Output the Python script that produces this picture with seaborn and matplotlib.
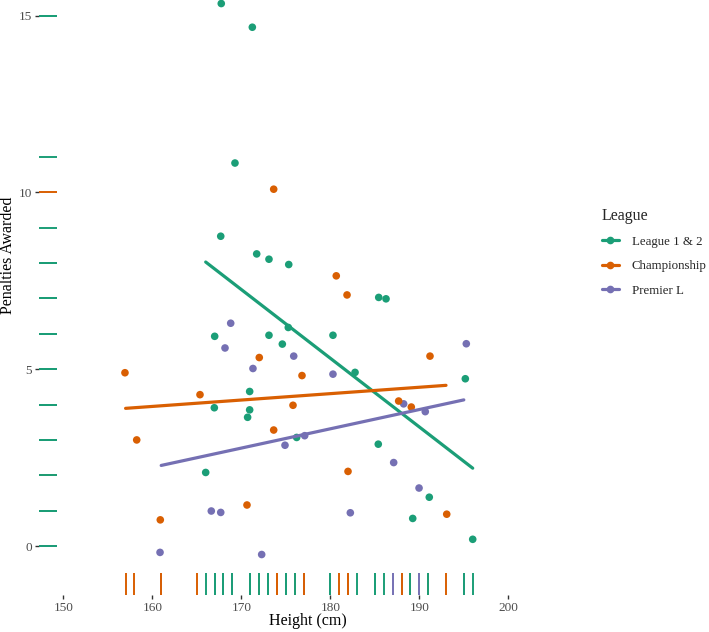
import matplotlib
matplotlib.use("Agg")

import matplotlib.pyplot as plt
from matplotlib.lines import Line2D
import numpy as np
import pandas as pd
import seaborn as sns

# points as drawn (jittered); the raw integer values are these rounded
league12_height = [167.75, 171.24, 169.29, 167.69, 171.73, 173.11, 175.33, 185.44, 186.26,
                   167.01, 173.11, 175.28, 174.61, 180.30, 182.78, 195.17, 170.94, 166.97,
                   170.94, 170.71, 176.22, 185.39, 166.00, 191.12, 189.26, 196.00]
league12_pens = [15.34, 14.67, 10.83, 8.76, 8.26, 8.11, 7.96, 7.03, 6.99,
                 5.93, 5.96, 6.18, 5.71, 5.96, 4.91, 4.73, 4.37, 3.91,
                 3.85, 3.64, 3.07, 2.88, 2.08, 1.38, 0.78, 0.19]

champ_height = [173.64, 180.67, 181.88, 156.93, 165.36, 158.25, 170.64, 160.90, 172.02,
                191.20, 176.82, 175.81, 187.68, 189.10, 173.64, 181.99, 193.08]
champ_pens = [10.09, 7.64, 7.10, 4.90, 4.28, 3.00, 1.16, 0.74, 5.33,
              5.37, 4.82, 3.98, 4.10, 3.93, 3.28, 2.11, 0.90]

prem_height = [168.81, 168.17, 166.63, 167.69, 160.87, 171.31, 175.89, 195.28, 180.30,
               188.24, 190.67, 174.91, 177.12, 187.12, 189.97, 182.25, 172.29]
prem_pens = [6.30, 5.60, 0.99, 0.95, -0.18, 5.02, 5.37, 5.72, 4.86,
             4.02, 3.80, 2.85, 3.12, 2.36, 1.64, 0.94, -0.24]

leagues = ["League 1 & 2", "Championship", "Premier L"]
colors = ["#1B9E77", "#D95F02", "#7570B3"]
x_ticks = [150, 160, 170, 180, 190, 200]
y_ticks = [0, 5, 10, 15]

# row order matters for the rug overlap (Premier L first, League 1 & 2 last)
frames = []
for name, h, p in [("Premier L", prem_height, prem_pens),
                   ("Championship", champ_height, champ_pens),
                   ("League 1 & 2", league12_height, league12_pens)]:
    frames.append(pd.DataFrame({"league": name, "height_j": h, "pens_j": p}))
df = pd.concat(frames, ignore_index=True)
df["height"] = df["height_j"].round()
df["pens"] = df["pens_j"].round()

palette = dict(zip(leagues, colors))

sns.set_theme(style="white")
plt.rcParams["font.family"] = ["Liberation Serif", "DejaVu Serif"]

fig = plt.figure(figsize=(7.09, 6.32), dpi=100)
ax = fig.add_axes([38.8 / 709, 37 / 632, (577.3 - 38.8) / 709, 595 / 632])

sns.rugplot(data=df, x="height", hue="league", hue_order=leagues, palette=palette,
            height=0.037, linewidth=1.4, expand_margins=False, legend=False, ax=ax)
sns.rugplot(data=df, y="pens", hue="league", hue_order=leagues, palette=palette,
            height=0.033, linewidth=1.4, expand_margins=False, legend=False, ax=ax)

sns.scatterplot(data=df, x="height_j", y="pens_j", hue="league", hue_order=leagues,
                palette=palette, s=30, linewidth=0, legend=False, ax=ax)

for name in leagues:
    sub = df[df["league"] == name]
    sns.regplot(data=sub, x="height", y="pens", scatter=False, ci=None, truncate=True,
                color=palette[name], line_kws={"linewidth": 2.3}, ax=ax)

ax.set_xlim(147.25, 207.75)
ax.set_ylim(-1.385, 15.44)
ax.set_xticks(x_ticks)
ax.set_yticks(y_ticks)
for s in ax.spines.values():
    s.set_visible(False)
ax.tick_params(axis="both", which="major", length=3, width=1, color="#333333",
               labelsize=9.5, labelcolor="#4d4d4d", pad=2, bottom=True, left=True)

ax.set_xlabel("Height (cm)", fontsize=11.5, color="black")
ax.set_ylabel("Penalties Awarded", fontsize=11.5, color="black")
ax.xaxis.set_label_coords(0.5, -0.031)
ax.yaxis.set_label_coords(-0.043, 1 - 255 / 595)

handles = [Line2D([0], [0], color=c, lw=2.3, marker="o", markersize=4.5) for c in colors]
fig.legend(handles, leagues, title="League", loc="upper left",
           bbox_to_anchor=(590 / 709, 1 - 196 / 632), frameon=False,
           fontsize=9.3, title_fontsize=11.5, handlelength=1.35, handletextpad=1.0,
           labelspacing=0.95, alignment="left")

fig.savefig("out.png", dpi=100)
plt.close(fig)
